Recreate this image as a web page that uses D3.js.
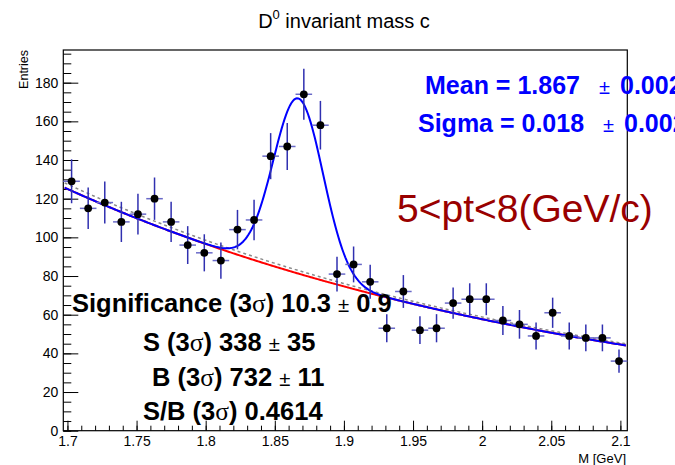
<!DOCTYPE html>
<html>
<head>
<meta charset="utf-8">
<script src="https://cdn.jsdelivr.net/npm/d3@7"></script>
<style>
  body { margin: 0; background: #fff; }
  svg { display: block; font-family: "Liberation Sans", Arial, sans-serif; }
</style>
</head>
<body>
<div id="chart"></div>
<script>
// Histogram: D0 candidates, 34 bins of 0.012 GeV
const binCenters = [1.703, 1.715, 1.727, 1.739, 1.751, 1.763, 1.775, 1.787, 1.799, 1.811,
                    1.823, 1.835, 1.847, 1.859, 1.871, 1.883, 1.895, 1.907, 1.919, 1.931,
                    1.943, 1.955, 1.967, 1.979, 1.991, 2.003, 2.015, 2.027, 2.039, 2.051,
                    2.063, 2.075, 2.087, 2.099];
const counts = [129, 115, 118, 108, 112, 120, 108, 96, 92, 88,
                104, 109, 142, 147, 174, 158, 81, 86, 77, 53,
                72, 52, 53, 66, 68, 68, 57, 55, 49, 61,
                49, 48, 48, 36];
const binWidth = 0.012;

// Axis ticks
const xMajorTicks = [1.7, 1.75, 1.8, 1.85, 1.9, 1.95, 2, 2.05, 2.1];
const yMajorTicks = [0, 20, 40, 60, 80, 100, 120, 140, 160, 180];

// Fit parameters (expo background + gaussian)
const bkgNorm = 126, bkgSlope = -2.58, bkgRef = 1.697;
const preFitNorm = 128.5;           // sideband-only background (grey dashed)
const gausAmp = 90.6, gausMean = 1.867, gausSigma = 0.018;

const W = 675, H = 465;
const svg = d3.select("#chart").append("svg")
  .attr("width", W).attr("height", H);

svg.append("rect").attr("width", W).attr("height", H).attr("fill", "#fff");

const x = d3.scaleLinear().domain([1.697, 2.105]).range([63.3, 627.3]);
const y = d3.scaleLinear().domain([0, 196.9]).range([430.7, 50]);

// axes (ticks point inside the frame, like ROOT)
const xMinor = d3.range(1.70, 2.1001, 0.01).map(v => +v.toFixed(2));
const yMinor = d3.range(0, 196, 5);

svg.append("g").attr("transform", `translate(0,${y(0)})`)
  .call(d3.axisBottom(x).tickValues(xMinor).tickSize(-5).tickFormat(""))
  .call(g => g.select(".domain").remove());

svg.append("g").attr("transform", `translate(0,${y(0)})`)
  .call(d3.axisBottom(x).tickValues(xMajorTicks).tickSize(-10).tickPadding(5)
    .tickFormat(d => String(+d.toFixed(2))))
  .call(g => g.select(".domain").remove())
  .call(g => g.selectAll("text").attr("font-size", 14).attr("fill", "#000")
    .attr("font-family", "Liberation Sans, Arial, sans-serif"));

svg.append("g").attr("transform", `translate(${x.range()[0]},0)`)
  .call(d3.axisLeft(y).tickValues(yMinor).tickSize(-8).tickFormat(""))
  .call(g => g.select(".domain").remove());

svg.append("g").attr("transform", `translate(${x.range()[0]},0)`)
  .call(d3.axisLeft(y).tickValues(yMajorTicks).tickSize(-15).tickPadding(5))
  .call(g => g.select(".domain").remove())
  .call(g => g.selectAll("text").attr("font-size", 14).attr("fill", "#000")
    .attr("font-family", "Liberation Sans, Arial, sans-serif"));

// frame
svg.append("rect")
  .attr("x", x.range()[0]).attr("y", y.range()[1])
  .attr("width", x.range()[1] - x.range()[0])
  .attr("height", y.range()[0] - y.range()[1])
  .attr("fill", "none").attr("stroke", "#000").attr("stroke-width", 1.2);

// fit curves
const bkg = m => bkgNorm * Math.exp(bkgSlope * (m - bkgRef));
const preBkg = m => preFitNorm * Math.exp(bkgSlope * (m - bkgRef));
const total = m => bkg(m) + gausAmp * Math.exp(-0.5 * ((m - gausMean) / gausSigma) ** 2);
const grid = d3.range(1.698, 2.1045, 0.001);
const line = f => d3.line().x(d => x(d)).y(d => y(f(d)))(grid);

svg.append("path").attr("d", line(preBkg)).attr("fill", "none")
  .attr("stroke", "#8a8a8a").attr("stroke-width", 1.5).attr("stroke-dasharray", "3,3");
svg.append("path").attr("d", line(bkg)).attr("fill", "none")
  .attr("stroke", "#ff0000").attr("stroke-width", 2);
svg.append("path").attr("d", line(total)).attr("fill", "none")
  .attr("stroke", "#0000ff").attr("stroke-width", 2);

// data points with errors
const pts = binCenters.map((c, i) => ({ c, n: counts[i], e: Math.sqrt(counts[i]) }));
const pg = svg.append("g");
pg.selectAll(".hbar").data(pts).join("line")
  .attr("x1", d => x(d.c - binWidth / 2)).attr("x2", d => x(d.c + binWidth / 2))
  .attr("y1", d => y(d.n)).attr("y2", d => y(d.n))
  .attr("stroke", "#6a6ac8").attr("stroke-width", 1.5);
pg.selectAll(".vbar").data(pts).join("line")
  .attr("x1", d => x(d.c)).attr("x2", d => x(d.c))
  .attr("y1", d => y(d.n - d.e)).attr("y2", d => y(d.n + d.e))
  .attr("stroke", "#3030b0").attr("stroke-width", 1.5);
pg.selectAll("circle").data(pts).join("circle")
  .attr("cx", d => x(d.c)).attr("cy", d => y(d.n)).attr("r", 3.9)
  .attr("fill", "#000");

// titles
const title = svg.append("text").attr("x", 344).attr("y", 28)
  .attr("text-anchor", "middle").attr("font-size", 20);
title.append("tspan").text("D");
title.append("tspan").attr("dy", -9).attr("font-size", 13).text("0");
title.append("tspan").attr("dy", 9).text(" invariant mass c");

svg.append("text").attr("transform", "translate(28,50) rotate(-90)")
  .attr("text-anchor", "end").attr("font-size", 12.5).text("Entries");

svg.append("text").attr("x", 626).attr("y", 463)
  .attr("text-anchor", "end").attr("font-size", 13).text("M [GeV]");

// fit results
function pmText(xp, yp, parts, size, color) {
  const t = svg.append("text").attr("x", xp).attr("y", yp)
    .attr("font-size", size).attr("fill", color).attr("font-weight", "bold")
    .attr("xml:space", "preserve");
  parts.forEach(p => {
    const s = t.append("tspan").text(p.t);
    if (p.sym) s.attr("font-weight", "normal").attr("font-family", "Liberation Serif, serif");
    if (p.pm) s.attr("font-weight", "normal").attr("font-size", size * 0.8);
    if (p.at != null) s.attr("x", p.at);
  });
  return t;
}

pmText(425, 94, [{ t: "Mean = 1.867" }, { t: "±", pm: 1, at: 599 }, { t: "0.002", at: 620 }], 25, "#0000ff");
pmText(418, 132, [{ t: "Sigma = 0.018" }, { t: "±", pm: 1, at: 603 }, { t: "0.002", at: 624 }], 25, "#0000ff");

svg.append("text").attr("x", 397).attr("y", 222).attr("font-size", 39)
  .attr("fill", "#990000").text("5<pt<8(GeV/c)");

pmText(72, 312, [{ t: "Significance (3" }, { t: "σ", sym: 1 }, { t: ") 10.3 " }, { t: "±", pm: 1 }, { t: " 0.9" }], 25.5, "#000");
pmText(143, 351, [{ t: "S (3" }, { t: "σ", sym: 1 }, { t: ") 338 " }, { t: "±", pm: 1 }, { t: " 35" }], 25.5, "#000");
pmText(152, 386, [{ t: "B (3" }, { t: "σ", sym: 1 }, { t: ") 732 " }, { t: "±", pm: 1 }, { t: " 11" }], 25.5, "#000");
pmText(143, 420, [{ t: "S/B (3" }, { t: "σ", sym: 1 }, { t: ") 0.4614" }], 25.5, "#000");
</script>
</body>
</html>
